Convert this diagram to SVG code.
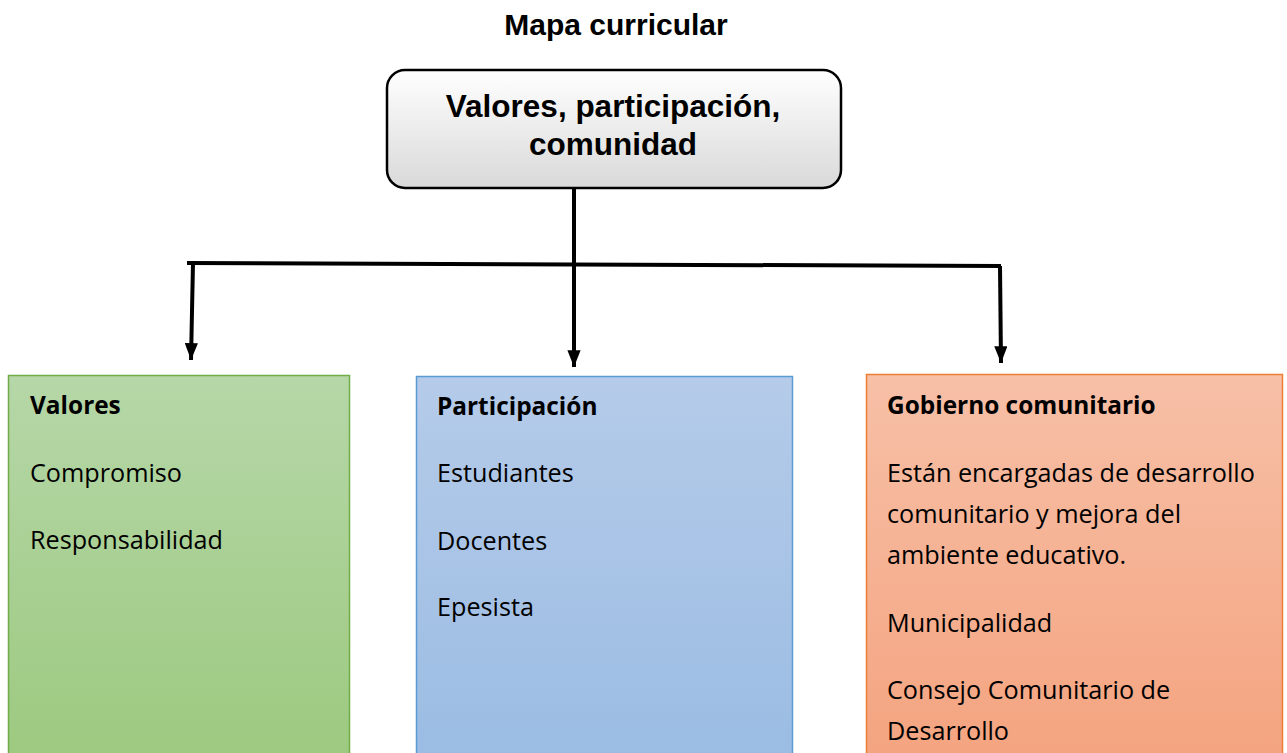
<svg xmlns="http://www.w3.org/2000/svg" width="1287" height="753" viewBox="0 0 1287 753">
<defs>
<linearGradient id="gTop" x1="0" y1="0" x2="0" y2="1"><stop offset="0" stop-color="#ffffff"/><stop offset="1" stop-color="#d9d9d9"/></linearGradient>
<linearGradient id="gGreen" x1="0" y1="0" x2="0" y2="1"><stop offset="0" stop-color="#b6d7a8"/><stop offset="1" stop-color="#9cc97f"/></linearGradient>
<linearGradient id="gBlue" x1="0" y1="0" x2="0" y2="1"><stop offset="0" stop-color="#b5cbe9"/><stop offset="1" stop-color="#9abce3"/></linearGradient>
<linearGradient id="gOrange" x1="0" y1="0" x2="0" y2="1"><stop offset="0" stop-color="#f7c0a7"/><stop offset="1" stop-color="#f4a37f"/></linearGradient>
<marker id="arr" viewBox="0 0 10 10" refX="10" refY="5" markerWidth="4.2" markerHeight="3.3" markerUnits="strokeWidth" orient="auto" preserveAspectRatio="none"><path d="M0,0 L10,5 L0,10 z" fill="#000"/></marker>
</defs>
<style>
.t{font-family:"Open Sans",Lato,sans-serif;font-size:25.2px;fill:#000}
.b{font-weight:bold;font-size:24.4px}
.h{font-family:"Liberation Sans",Arial,sans-serif;font-weight:bold;fill:#000}
.c{fill:none;stroke:#000;stroke-width:4}
</style>
<rect width="1287" height="753" fill="#fff"/>
<text class="h" x="616" y="35" font-size="30" text-anchor="middle">Mapa curricular</text>
<g id="root">
<rect x="387" y="70" width="454" height="118" rx="18" fill="url(#gTop)" stroke="#000" stroke-width="2.5"/>
<text class="h" x="613" y="117" font-size="31.5" text-anchor="middle">Valores, participación,</text>
<text class="h" x="613" y="155" font-size="31.5" text-anchor="middle">comunidad</text>
</g>
<g id="connectors">
<line class="c" x1="574" y1="188" x2="574" y2="262"/>
<line class="c" x1="187" y1="263" x2="1001" y2="266"/>
<line class="c" x1="193" y1="263" x2="191" y2="360" marker-end="url(#arr)"/>
<line class="c" x1="574" y1="262" x2="574" y2="367" marker-end="url(#arr)"/>
<line class="c" x1="1000" y1="266" x2="1001" y2="363" marker-end="url(#arr)"/>
</g>
<g id="valores">
<rect x="8.5" y="375.5" width="341" height="390" fill="url(#gGreen)" stroke="#70ad47" stroke-width="1.5"/>
<text class="t b" x="30" y="414">Valores</text>
<text class="t" x="30" y="482">Compromiso</text>
<text class="t" x="30" y="549">Responsabilidad</text>
</g>
<g id="participacion">
<rect x="416.5" y="376.5" width="376" height="390" fill="url(#gBlue)" stroke="#5b9bd5" stroke-width="1.5"/>
<text class="t b" x="437" y="415">Participación</text>
<text class="t" x="437" y="482">Estudiantes</text>
<text class="t" x="437" y="550">Docentes</text>
<text class="t" x="437" y="616">Epesista</text>
</g>
<g id="gobierno">
<rect x="866.5" y="374.5" width="416" height="390" fill="url(#gOrange)" stroke="#ed7d31" stroke-width="1.5"/>
<text class="t b" x="887" y="414">Gobierno comunitario</text>
<text class="t" x="887" y="482">Están encargadas de desarrollo</text>
<text class="t" x="887" y="523">comunitario y mejora del</text>
<text class="t" x="887" y="564">ambiente educativo.</text>
<text class="t" x="887" y="632">Municipalidad</text>
<text class="t" x="887" y="699">Consejo Comunitario de</text>
<text class="t" x="887" y="740">Desarrollo</text>
</g>
</svg>
